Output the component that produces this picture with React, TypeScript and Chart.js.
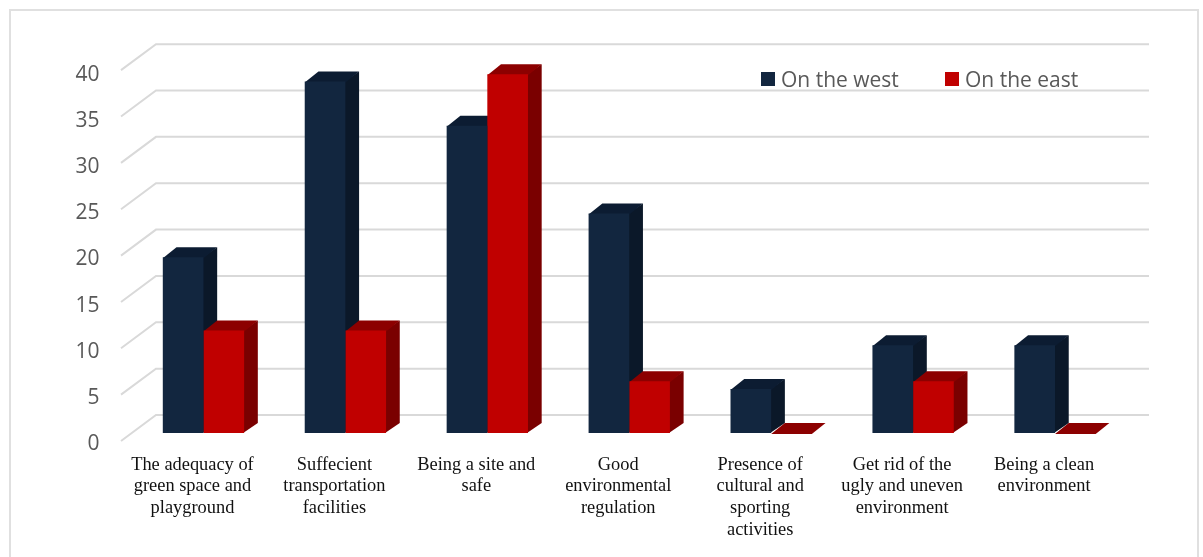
import React, { useEffect, useRef } from "react";
import { Chart, registerables } from "chart.js";

Chart.register(...registerables);

const categories: string[][] = [
  ["The adequacy of", "green space and", "playground"],
  ["Suffecient", "transportation", "facilities"],
  ["Being a site and", "safe"],
  ["Good", "environmental", "regulation"],
  ["Presence of", "cultural and", "sporting", "activities"],
  ["Get rid of the", "ugly and uneven", "environment"],
  ["Being a clean", "environment"],
];
const westValues = [19.05, 38.1, 33.3, 23.8, 4.76, 9.5, 9.5];
const eastValues = [11.1, 11.1, 38.9, 5.6, 0, 5.6, 0];

const WEST_FRONT = "#12263f";
const WEST_SIDE = "#0b1829";
const WEST_TOP = "#0c1c32";
const EAST_FRONT = "#c00000";
const EAST_SIDE = "#7a0000";
const EAST_TOP = "#8c0000";
const GRID = "#d9d9d9";
const AXIS_TEXT = "#595959";
const SANS = '"Open Sans", sans-serif';

const BAR_DX = 13.7;
const BAR_DY = 10;
const WALL_SCALE = 1.005;

// Back wall, side wall and the extruded faces of the columns sit under the flat bars.
const depthPlugin = {
  id: "depth",
  beforeDatasetsDraw(chart: Chart) {
    const { ctx } = chart;
    const y = chart.scales.y;
    const left = chart.chartArea.left;
    const zero = y.getPixelForValue(0);
    ctx.save();
    ctx.strokeStyle = GRID;
    ctx.lineWidth = 2;
    y.ticks.forEach((t: { value: number }) => {
      const py = zero + (y.getPixelForValue(t.value) - zero) * WALL_SCALE;
      ctx.beginPath();
      ctx.moveTo(left - 11.5, py + 8);
      ctx.lineTo(left + 23.5, py - 18);
      ctx.lineTo(1149, py - 18);
      ctx.stroke();
    });
    const faces = [
      { side: WEST_SIDE, top: WEST_TOP },
      { side: EAST_SIDE, top: EAST_TOP },
    ];
    faces.forEach((face, i) => {
      chart.getDatasetMeta(i).data.forEach((el: any) => {
        const { x, y: top, base, width } = el.getProps(["x", "y", "base", "width"], true);
        const l = x - width / 2;
        const r = x + width / 2;
        ctx.fillStyle = face.side;
        ctx.beginPath();
        ctx.moveTo(r - 1, top);
        ctx.lineTo(r + BAR_DX, top - BAR_DY);
        ctx.lineTo(r + BAR_DX, base - BAR_DY);
        ctx.lineTo(r - 1, base);
        ctx.closePath();
        ctx.fill();
        ctx.fillStyle = face.top;
        ctx.beginPath();
        ctx.moveTo(l, top + 1);
        ctx.lineTo(l + BAR_DX, top - BAR_DY);
        ctx.lineTo(r + BAR_DX, top - BAR_DY);
        ctx.lineTo(r, top + 1);
        ctx.closePath();
        ctx.fill();
      });
    });
    ctx.restore();
  },
};

// Legend placed inside the plot, at the upper right.
const keyPlugin = {
  id: "key",
  afterDraw(chart: Chart) {
    const { ctx } = chart;
    const slots = [761, 945];
    ctx.save();
    ctx.font = `21px ${SANS}`;
    ctx.textAlign = "left";
    ctx.textBaseline = "alphabetic";
    chart.data.datasets.forEach((ds: any, i: number) => {
      ctx.fillStyle = ds.backgroundColor;
      ctx.fillRect(slots[i], 72, 14, 14);
      ctx.fillStyle = AXIS_TEXT;
      ctx.fillText(ds.label, slots[i] + 20, 87);
    });
    ctx.restore();
  },
};

export default function App() {
  const ref = useRef<HTMLCanvasElement>(null);
  useEffect(() => {
    const chart = new Chart(ref.current!, {
      type: "bar",
      data: {
        labels: categories,
        datasets: [
          { label: "On the west", data: westValues, backgroundColor: WEST_FRONT },
          { label: "On the east", data: eastValues, backgroundColor: EAST_FRONT },
        ],
      },
      options: {
        animation: false,
        responsive: false,
        layout: { padding: { top: 64, right: 77, left: 0, bottom: 0 } },
        plugins: { legend: { display: false }, tooltip: { enabled: false } },
        datasets: { bar: { categoryPercentage: 0.573, barPercentage: 1 } },
        scales: {
          x: {
            afterFit(scale: any) {
              scale.height = 124;
            },
            grid: { display: false, drawTicks: false },
            border: { display: false },
            ticks: {
              autoSkip: false,
              maxRotation: 0,
              minRotation: 0,
              padding: 21,
              labelOffset: -11,
              color: "#111111",
              font: { family: '"Liberation Serif", serif', size: 18.4, lineHeight: "21.7px" },
            },
          },
          y: {
            min: 0,
            max: 40,
            afterFit(scale: any) {
              scale.width = 132.5;
            },
            grid: { display: false, drawTicks: false },
            border: { display: false },
            ticks: {
              stepSize: 5,
              padding: 33,
              labelOffset: 11,
              color: AXIS_TEXT,
              font: { family: SANS, size: 21 },
            },
          },
        },
      },
      plugins: [depthPlugin, keyPlugin],
    } as any);
    return () => chart.destroy();
  }, []);

  return (
    <div style={{ position: "fixed", inset: 0, overflow: "hidden", background: "#fff" }}>
      <div
        style={{
          position: "absolute",
          left: 9,
          top: 9,
          width: 1186,
          height: 600,
          border: "2px solid #e0e0e0",
        }}
      />
      <canvas ref={ref} width={1203} height={557} style={{ position: "absolute", left: 0, top: 0 }} />
    </div>
  );
}
